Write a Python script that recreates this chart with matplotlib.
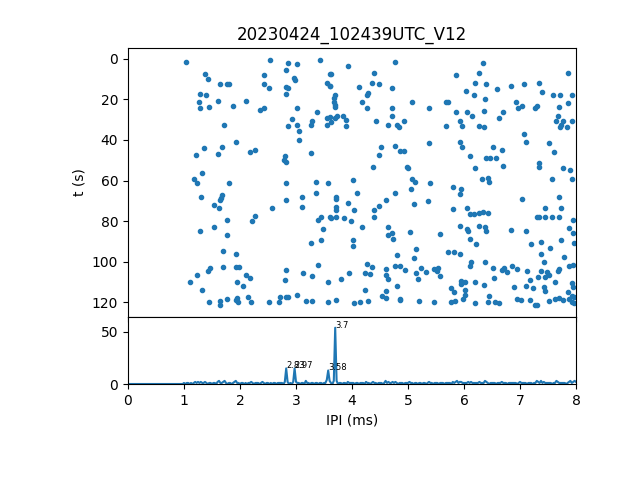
import numpy as np
import matplotlib
matplotlib.use("Agg")
import matplotlib.pyplot as plt

title = "20230424_102439UTC_V12"

left_top = [(1.04, 1.6), (2.54, 0.7), (1.38, 7.5), (1.42, 10.0), (2.42, 8.0), (1.65, 12.5), (1.77, 12.5),
            (1.80, 12.5), (2.42, 12.5), (2.52, 14.4), (1.29, 17.4), (1.40, 17.9), (1.26, 21.3), (1.61, 20.8),
            (2.10, 20.8), (1.29, 24.3), (1.45, 23.8), (1.88, 23.3), (2.35, 25.2), (2.42, 24.3), (1.72, 32.6),
            (1.93, 41.0), (1.67, 43.4), (1.35, 43.9), (1.22, 47.4), (1.61, 46.9), (2.17, 45.9), (2.26, 44.9),
            (1.33, 56.2), (1.17, 59.2), (1.24, 61.1), (1.81, 61.0)]
left_bot = [(1.31, 68.0), (1.68, 67.1), (1.66, 68.5), (1.64, 69.4), (1.54, 72.0), (1.63, 73.4), (2.58, 73.4),
            (2.27, 77.7), (2.22, 79.8), (1.77, 79.3), (1.29, 84.8), (1.54, 82.8), (1.76, 86.7), (1.70, 94.6),
            (1.92, 96.1), (1.47, 103.0), (1.43, 104.4), (1.70, 102.5), (1.93, 102.5), (1.98, 102.5),
            (1.24, 106.4), (2.11, 106.4), (2.17, 107.9), (1.10, 109.8), (1.95, 109.8), (2.06, 111.8),
            (1.33, 113.8), (1.45, 119.7), (1.65, 119.2), (1.65, 121.1), (1.77, 118.2), (1.95, 117.7),
            (1.93, 118.7), (1.97, 119.7), (2.15, 117.2), (2.20, 119.7), (2.51, 119.7)]
mid_top = [(2.85, 2.1), (3.01, 2.6), (3.43, 0.7), (3.92, 3.6), (4.77, 1.6), (2.83, 5.6), (3.60, 7.5),
           (3.62, 7.5), (2.97, 9.5), (2.99, 10.5), (4.40, 7.0), (2.83, 13.9), (2.85, 14.4), (2.83, 17.4),
           (3.56, 12.0), (3.60, 13.4), (3.61, 13.4), (4.13, 13.9), (4.35, 12.0), (4.49, 12.5), (4.72, 14.4),
           (4.29, 16.9), (4.26, 17.9), (3.70, 17.9), (3.68, 19.4), (3.67, 21.3), (3.70, 22.8), (3.70, 23.8),
           (4.17, 21.3), (4.26, 24.3), (5.08, 21.3), (3.01, 24.3), (3.38, 26.2), (4.72, 24.3), (2.92, 29.7),
           (2.85, 33.1), (3.02, 32.6), (3.06, 35.6), (3.06, 40.0), (3.26, 32.6), (3.29, 30.6), (3.56, 29.2),
           (3.60, 28.7), (3.56, 32.6), (3.63, 31.1), (3.70, 29.2), (3.74, 28.2), (3.84, 28.2), (3.90, 30.2),
           (3.90, 33.1), (4.42, 30.6), (4.65, 32.6), (4.72, 28.2), (4.81, 32.6), (4.84, 33.6), (4.92, 30.6),
           (3.26, 46.4), (2.81, 47.9), (2.78, 49.8), (2.83, 50.8), (4.51, 43.4), (4.49, 47.4), (4.77, 42.9),
           (4.86, 45.4), (4.92, 45.4), (4.38, 53.3), (4.99, 53.3), (5.00, 53.8), (5.08, 59.2), (5.13, 60.7),
           (2.83, 61.1), (3.35, 60.7), (3.58, 61.1), (4.01, 59.5)]
mid_bot = [(3.11, 68.0), (2.83, 69.5), (3.35, 66.1), (3.11, 72.9), (3.72, 68.0), (3.72, 69.0), (3.72, 72.9),
           (3.72, 74.4), (4.09, 66.1), (3.93, 71.0), (4.04, 74.4), (4.76, 66.1), (4.61, 69.5), (4.49, 72.5),
           (4.40, 74.4), (4.40, 77.9), (5.06, 64.1), (5.10, 71.5), (3.40, 79.3), (3.45, 77.9), (3.60, 77.9),
           (3.63, 78.4), (3.72, 77.9), (3.86, 78.4), (3.99, 79.8), (4.17, 82.8), (3.49, 83.8), (3.45, 89.2),
           (3.26, 90.7), (4.01, 89.2), (4.01, 92.1), (4.65, 82.8), (4.71, 85.7), (4.64, 86.7), (4.74, 88.7),
           (5.04, 85.2), (5.15, 93.6), (5.10, 98.0), (4.81, 96.6), (2.83, 103.9), (2.81, 108.9), (3.13, 105.4),
           (3.29, 106.9), (3.40, 101.5), (3.58, 109.8), (3.81, 108.4), (3.95, 105.4), (4.26, 101.0),
           (4.35, 102.5), (4.24, 105.4), (4.33, 105.9), (4.61, 103.4), (4.61, 106.4), (4.65, 108.4),
           (4.76, 102.0), (4.85, 102.0), (4.95, 103.9), (5.24, 103.0), (5.15, 105.4), (5.17, 108.4),
           (4.81, 111.8), (4.24, 113.8), (4.61, 114.3), (2.72, 117.2), (2.70, 119.7), (2.83, 117.2),
           (2.86, 117.2), (3.02, 116.2), (3.17, 119.2), (3.29, 119.2), (3.58, 119.7), (3.72, 118.7),
           (4.04, 120.2), (4.15, 119.7), (4.29, 119.2), (4.54, 116.7), (4.61, 117.7), (4.85, 118.7),
           (4.86, 118.2), (5.20, 119.2)]
right_top = [(6.34, 2.1), (6.27, 7.0), (5.86, 8.0), (7.86, 7.0), (6.20, 12.0), (6.40, 12.5), (6.59, 14.9),
             (6.84, 13.4), (7.08, 12.5), (7.34, 12.0), (7.40, 16.4), (6.04, 15.9), (6.17, 17.9), (6.38, 19.8),
             (7.59, 17.9), (7.72, 17.9), (7.92, 17.9), (7.85, 21.8), (7.70, 23.8), (5.38, 24.3), (5.67, 21.3),
             (5.72, 21.3), (6.92, 21.3), (7.03, 23.3), (6.97, 24.3), (7.26, 24.3), (7.31, 23.3), (5.86, 26.2),
             (6.06, 26.2), (6.15, 28.2), (6.35, 25.7), (6.69, 26.2), (6.63, 29.2), (5.92, 30.6), (5.97, 33.1),
             (5.67, 33.1), (6.26, 33.1), (6.36, 33.6), (7.68, 28.2), (7.65, 30.6), (7.77, 30.6), (7.93, 30.6),
             (7.73, 32.6), (7.72, 33.6), (7.84, 33.6), (7.08, 37.0), (7.11, 41.0), (7.51, 41.5), (7.60, 45.9),
             (5.38, 41.5), (5.93, 41.0), (5.97, 43.4), (6.52, 43.4), (6.68, 44.9), (6.10, 47.9), (6.40, 48.9),
             (6.47, 48.9), (6.58, 48.9), (6.70, 52.8), (6.20, 53.8), (7.34, 51.3), (7.34, 53.3), (7.77, 53.8),
             (7.90, 54.8), (6.33, 59.2), (6.42, 58.7), (6.44, 60.7), (7.58, 59.2), (7.93, 59.2), (5.40, 61.1)]
right_bot = [(5.81, 63.1), (5.95, 64.1), (5.92, 66.6), (5.35, 70.0), (5.81, 73.9), (6.06, 73.4), (6.11, 76.4),
             (6.17, 76.4), (6.26, 75.9), (6.34, 75.4), (6.42, 75.9), (7.04, 69.0), (7.70, 68.0), (7.74, 73.4),
             (7.45, 73.4), (7.31, 77.9), (7.34, 77.9), (7.45, 77.9), (7.58, 77.9), (7.69, 77.9), (7.95, 79.3),
             (5.92, 82.3), (6.06, 83.8), (6.08, 84.8), (6.26, 82.3), (6.38, 82.8), (6.40, 84.8), (6.10, 88.7),
             (6.22, 91.1), (5.58, 86.2), (6.84, 84.3), (7.10, 84.8), (7.19, 91.1), (7.38, 90.2), (7.54, 93.1),
             (7.74, 89.2), (7.88, 83.3), (7.95, 85.7), (7.97, 90.7), (7.38, 96.1), (7.79, 97.5), (7.43, 100.0),
             (5.72, 95.1), (5.83, 95.1), (5.92, 96.1), (6.13, 100.0), (6.11, 102.0), (6.38, 100.0), (6.51, 103.0),
             (5.33, 104.9), (5.47, 103.4), (5.54, 103.0), (5.52, 104.4), (5.58, 106.9), (6.54, 107.9),
             (6.67, 103.9), (6.72, 103.0), (6.76, 104.9), (6.86, 102.0), (6.95, 103.4), (7.13, 104.4),
             (7.38, 104.4), (7.49, 104.9), (7.51, 106.4), (7.45, 107.4), (7.33, 107.4), (7.67, 104.4),
             (7.70, 103.4), (7.87, 102.0), (7.95, 101.5), (7.17, 108.9), (7.63, 109.8), (5.95, 109.3),
             (6.02, 109.8), (5.95, 111.0), (6.20, 109.8), (6.35, 111.3), (6.90, 112.3), (7.10, 111.8),
             (7.24, 112.8), (7.42, 112.3), (7.92, 110.3), (7.95, 112.3), (5.76, 112.8), (5.83, 114.8),
             (6.02, 113.8), (6.01, 116.2), (5.99, 118.2), (6.45, 116.7), (7.45, 114.3), (7.85, 114.8),
             (7.92, 116.7), (5.47, 119.7), (5.77, 119.7), (5.84, 119.2), (6.20, 120.2), (6.42, 119.7),
             (6.56, 119.7), (6.63, 120.2), (6.95, 118.2), (7.02, 118.7), (7.17, 118.7), (7.27, 121.1),
             (7.31, 121.1), (7.51, 119.2), (7.63, 118.2), (7.69, 117.7), (7.77, 118.7), (7.88, 118.2),
             (7.92, 119.7), (7.97, 117.2), (7.97, 120.2)]

# IPI histogram, bins every 0.025 ms from 0 to 8 (one row per ms)
hist_counts = (
    [0] * 40 +
    [1, 0, 1, 1, 0, 1, 0, 1, 2, 1, 2, 1, 2, 1, 1, 2, 1, 0, 1, 1,
     0, 1, 1, 0, 2, 3, 1, 1, 2, 3, 1, 0, 1, 1, 0, 1, 2, 3, 1, 1] +
    [0, 1, 1, 0, 1, 0, 1, 1, 2, 1, 0, 1, 1, 1, 0, 1, 2, 1, 0, 1,
     1, 0, 1, 0, 1, 1, 0, 1, 1, 1, 1, 0, 2, 15, 2, 0, 1, 0, 2, 15] +
    [2, 1, 1, 0, 1, 1, 0, 3, 1, 1, 0, 1, 1, 0, 1, 1, 0, 1, 1, 0,
     1, 1, 4, 13, 3, 1, 0, 3, 54, 3, 0, 1, 1, 0, 1, 1, 0, 2, 1, 1] +
    [1, 1, 0, 1, 1, 0, 1, 1, 1, 0, 2, 1, 1, 0, 1, 2, 1, 1, 0, 1,
     1, 1, 0, 1, 3, 1, 2, 1, 1, 2, 1, 2, 1, 0, 1, 1, 1, 0, 1, 1] +
    [1, 2, 1, 1, 0, 1, 1, 0, 1, 1, 0, 1, 1, 0, 1, 2, 1, 1, 0, 1,
     1, 1, 0, 1, 1, 1, 0, 1, 1, 1, 1, 0, 2, 1, 2, 3, 1, 2, 2, 1] +
    [1, 1, 1, 2, 1, 2, 1, 1, 1, 1, 1, 2, 1, 1, 1, 3, 2, 1, 0, 1,
     1, 1, 1, 0, 1, 1, 1, 2, 1, 1, 1, 0, 1, 1, 1, 1, 1, 1, 0, 1] +
    [2, 1, 1, 1, 1, 0, 1, 1, 1, 0, 1, 1, 3, 2, 1, 3, 1, 2, 1, 1,
     1, 1, 1, 0, 1, 1, 3, 2, 1, 1, 1, 1, 1, 0, 1, 2, 3, 1, 2, 3] +
    [2]
)

peak_ipi = [2.83, 2.97, 3.58, 3.7]
peak_height = [15, 15, 13, 54]
peak_labels = ["2.83", "2.97", "3.58", "3.7"]

spikes = left_top + left_bot + mid_top + mid_bot + right_top + right_bot
ipi = [p[0] for p in spikes]
t = [p[1] for p in spikes]
bins = np.linspace(0, 8, len(hist_counts))

fig, (ax1, ax2) = plt.subplots(2, 1, sharex=True, figsize=(6.4, 4.8),
                               gridspec_kw={"height_ratios": [4, 1], "hspace": 0})
fig.subplots_adjust(left=0.2, right=0.9, top=0.9, bottom=0.2)

ax1.plot(ipi, t, '.')
ax1.invert_yaxis()
ax1.set_ylabel("t (s)")
ax1.set_title(title)

ax2.plot(bins, hist_counts)
for x, y, s in zip(peak_ipi, peak_height, peak_labels):
    ax2.text(x, y, s, fontsize=6)
ax2.set_ylim(0, 64.5)
ax2.set_xlim(0, 8)
ax2.set_xlabel("IPI (ms)")

plt.savefig("out.png", dpi=100)
